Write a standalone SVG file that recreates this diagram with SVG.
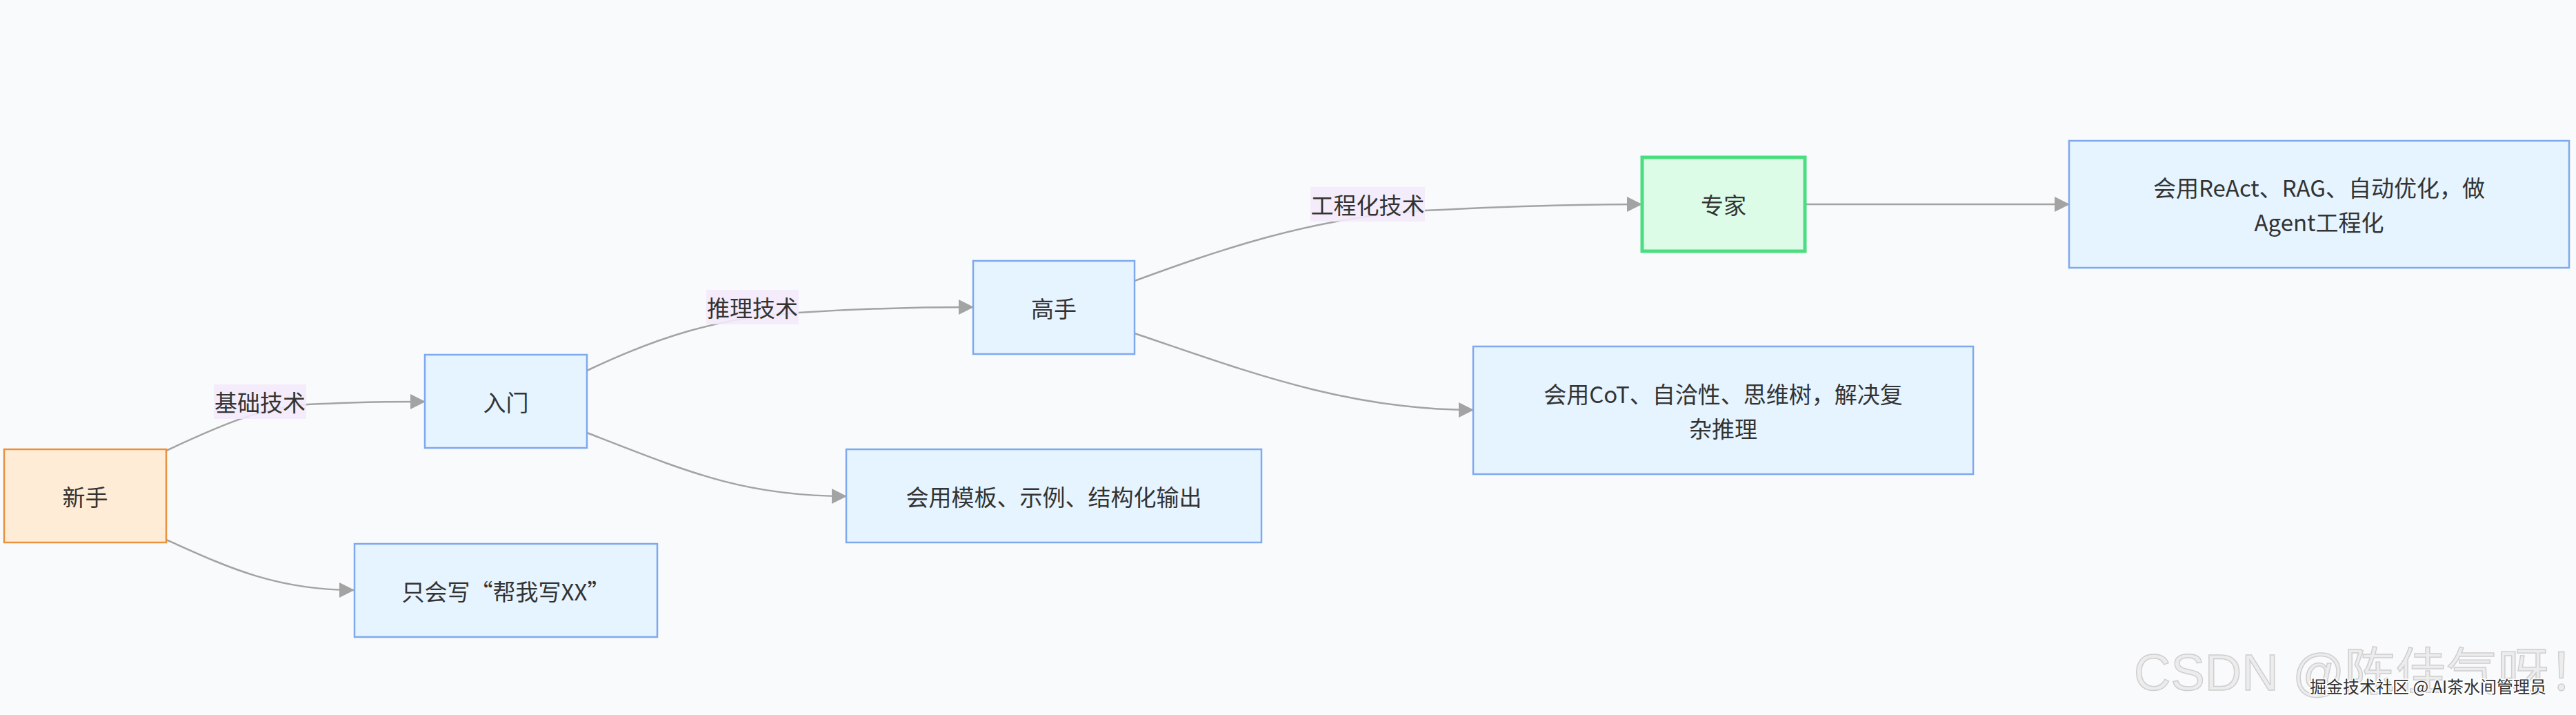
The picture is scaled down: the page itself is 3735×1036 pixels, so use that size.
<svg xmlns="http://www.w3.org/2000/svg" width="3735" height="1036" viewBox="0 0 3735 1036">
<defs>
<style>
.bg{fill:#f9fafc}
.node rect{stroke-width:2.5}
.blue rect{fill:#e6f4ff;stroke:#7ea9ef}
.orange rect{fill:#ffecd6;stroke:#e8913f}
.green rect{fill:#dcfce7;stroke:#4ade80;stroke-width:5}
.t{font-family:"Noto Sans CJK SC","Noto Sans",sans-serif;font-size:33px;fill:#333;text-anchor:middle;dominant-baseline:central}
.edge{fill:none;stroke:#a3a3a3;stroke-width:2.5}
.lbl rect{fill:#f3eaf9;opacity:0.9}
.wm1{font-family:"Liberation Sans","Noto Sans CJK SC",sans-serif;font-size:74px;fill:#ececec;stroke:#cfcfcf;stroke-width:1.5}
.wm2{font-family:"Noto Sans CJK SC",sans-serif;font-size:24px;fill:#333;stroke:#ffffff;stroke-width:3;paint-order:stroke}
</style>
<marker id="arrow" markerUnits="userSpaceOnUse" markerWidth="22" markerHeight="22" refX="21" refY="11" orient="auto">
<path d="M0,0 L22,11 L0,22 z" fill="#a3a3a3"/>
</marker>
</defs>
<rect class="bg" x="0" y="0" width="3735" height="1036"/>
<g id="connectors">
<path class="edge" marker-end="url(#arrow)" d="M241,653 C320,616 380,590 446,586 C500,583 560,582 616,582"/>
<path class="edge" marker-end="url(#arrow)" d="M241,782 C330,822 400,855 513,855"/>
<path class="edge" marker-end="url(#arrow)" d="M851,537 C950,490 1040,460 1158,453 C1250,447 1330,445 1411,445"/>
<path class="edge" marker-end="url(#arrow)" d="M851,627 C1000,685 1080,719 1227,719"/>
<path class="edge" marker-end="url(#arrow)" d="M1645,407 C1760,365 1900,315 2066,305 C2200,298 2300,296 2380,296"/>
<path class="edge" marker-end="url(#arrow)" d="M1645,483 C1800,535 1950,594 2136,594"/>
<path class="edge" marker-end="url(#arrow)" d="M2617,296 L3000,296"/>
</g>
<g id="edge-labels">
<g class="lbl" id="label-jichu"><rect x="310" y="557" width="134" height="50"/><text class="t" x="377" y="582">基础技术</text></g>
<g class="lbl" id="label-tuili"><rect x="1024" y="420" width="134" height="50"/><text class="t" x="1091" y="445">推理技术</text></g>
<g class="lbl" id="label-gongcheng"><rect x="1900" y="271" width="166" height="50"/><text class="t" x="1983" y="296">工程化技术</text></g>
</g>
<g id="node-xinshou" class="node orange"><rect x="6" y="651" width="235" height="135"/><text class="t" x="123.5" y="718.5">新手</text></g>
<g id="node-rumen" class="node blue"><rect x="616" y="514" width="235" height="135"/><text class="t" x="733.5" y="581.5">入门</text></g>
<g id="node-zhihui" class="node blue"><rect x="514" y="788" width="439" height="135"/><text class="t" x="733.5" y="855.5">只会写“帮我写XX”</text></g>
<g id="node-moban" class="node blue"><rect x="1227" y="651" width="602" height="135"/><text class="t" x="1528" y="718.5">会用模板、示例、结构化输出</text></g>
<g id="node-gaoshou" class="node blue"><rect x="1411" y="378" width="234" height="135"/><text class="t" x="1528" y="445.5">高手</text></g>
<g id="node-cot" class="node blue"><rect x="2136" y="502" width="725" height="185"/><text class="t" x="2498.5" y="569.5">会用CoT、自洽性、思维树，解决复</text><text class="t" x="2498.5" y="619.5">杂推理</text></g>
<g id="node-zhuanjia" class="node green"><rect x="2381" y="228" width="236" height="136"/><text class="t" x="2499" y="296">专家</text></g>
<g id="node-react" class="node blue"><rect x="3000" y="204" width="725" height="184"/><text class="t" x="3362.5" y="271">会用ReAct、RAG、自动优化，做</text><text class="t" x="3362.5" y="321">Agent工程化</text></g>
<g id="watermarks">
<text class="wm1" x="3094" y="1000">CSDN @陈佳气呀！</text>
<text class="wm2" x="3349" y="1004">掘金技术社区 @ AI茶水间管理员</text>
</g>
</svg>
